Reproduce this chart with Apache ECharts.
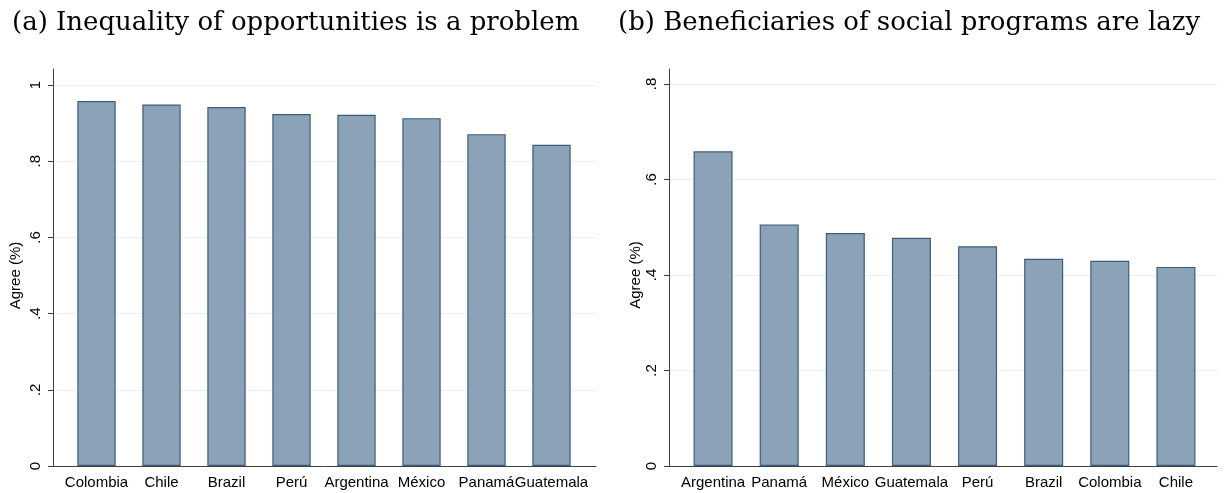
<!DOCTYPE html>
<html>
<head>
<meta charset="utf-8">
<script src="https://cdn.jsdelivr.net/npm/echarts@6/dist/echarts.min.js"></script>
<style>html,body{margin:0;padding:0;background:#fff;}#c{width:1225px;height:493px;}</style>
</head>
<body>
<div id="c"></div>
<script>
const catA = ['Colombia','Chile','Brazil','Perú','Argentina','México','Panamá','Guatemala'];
const valA = [0.958,0.949,0.942,0.924,0.922,0.913,0.871,0.843];
const catB = ['Argentina','Panamá','México','Guatemala','Perú','Brazil','Colombia','Chile'];
const valB = [0.659,0.506,0.488,0.478,0.460,0.434,0.430,0.417];
const titleA = '(a) Inequality of opportunities is a problem';
const titleB = '(b) Beneficiaries of social programs are lazy';
const yName = 'Agree (%)';
const tickText = {0:'0',0.2:'.2',0.4:'.4',0.6:'.6',0.8:'.8',1:'1'};

const SANS = 'Liberation Sans, Arial, sans-serif';
const SERIF = 'DejaVu Serif, serif';
const AXIS_COL = '#404040';
const GRID_COL = '#e8f0f1';
const FILL = '#8ca2b7';
const EDGE = '#3b5d80';

function fmt(v){ const k = Math.round(v*10)/10; return tickText[k] !== undefined ? tickText[k] : ''; }

const chart = echarts.init(document.getElementById('c'), null, {renderer:'canvas'});

function panel(gi, left, right, barLeft, barRight, topVal, topLine, maxV, cats, vals, nameGap){
  const grids = [
    {left:left, right:right, top:topVal, bottom:27},
    {left:left, right:right, top:topLine, bottom:27},
    {left:barLeft, right:barRight, top:topVal, bottom:27}
  ];
  const xAxes = [
    {gridIndex:gi, type:'value', min:0, max:1, show:false},
    {gridIndex:gi+1, type:'value', min:0, max:1, axisLine:{show:true, onZero:false, lineStyle:{color:AXIS_COL,width:1}}, axisTick:{show:false}, axisLabel:{show:false}, splitLine:{show:false}},
    {gridIndex:gi+2, type:'category', data:cats, axisLine:{show:false}, axisTick:{show:false},
      axisLabel:{interval:0, margin:9, fontFamily:SANS, fontSize:15, color:'#000'}}
  ];
  const yAxes = [
    {gridIndex:gi, type:'value', min:0, max:maxV, interval:0.2,
      name:yName, nameLocation:'middle', nameRotate:90, nameGap:nameGap,
      nameTextStyle:{fontFamily:SANS, fontSize:15, color:'#000'},
      axisLine:{show:false}, axisTick:{show:true, length:5, lineStyle:{color:AXIS_COL}},
      axisLabel:{rotate:90, margin:10, fontFamily:SANS, fontSize:15, color:'#000', formatter:fmt},
      splitLine:{show:true, lineStyle:{color:GRID_COL, width:1}}},
    {gridIndex:gi+1, type:'value', min:0, max:1, axisLine:{show:true, lineStyle:{color:AXIS_COL,width:1}}, axisTick:{show:false}, axisLabel:{show:false}, splitLine:{show:false}},
    {gridIndex:gi+2, type:'value', min:0, max:maxV, show:false}
  ];
  const series = [{
    type:'bar', xAxisIndex:gi+2, yAxisIndex:gi+2, data:vals, barWidth:'59%',
    itemStyle:{color:FILL, borderColor:EDGE, borderWidth:1.2}, silent:true, animation:false
  }];
  return {grids, xAxes, yAxes, series};
}

const A = panel(0, 53, 629, 64, 641, 85, 69, 1, catA, valA, 30);
const B = panel(3, 669, 8, 680, 16, 84, 69, 0.8, catB, valB, 16);

chart.setOption({
  animation:false,
  backgroundColor:'#fff',
  title:[
    {text:titleA, left:7, top:5, textStyle:{fontFamily:SERIF, fontSize:26, fontWeight:'normal', color:'#000'}},
    {text:titleB, left:613, top:5, textStyle:{fontFamily:SERIF, fontSize:26, fontWeight:'normal', color:'#000'}}
  ],
  grid:[...A.grids, ...B.grids],
  xAxis:[...A.xAxes, ...B.xAxes],
  yAxis:[...A.yAxes, ...B.yAxes],
  series:[...A.series, ...B.series]
});
</script>
</body>
</html>
